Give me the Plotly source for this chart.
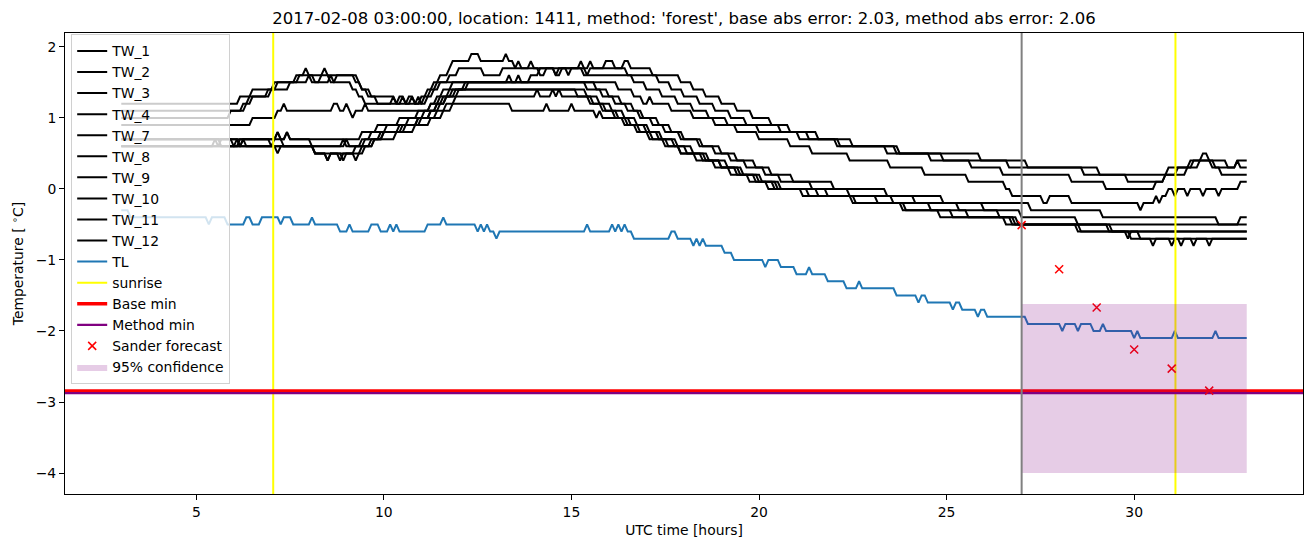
import numpy as np
import plotly.graph_objects as go

# ---------------- data ----------------
T_START, T_END, STEP_PER_H = 3.0, 33.0, 12   # 5-minute observations

TW_1 = [(3.0,1.2),(6.17,1.3),(6.5,1.4),(7.08,1.5),(7.67,1.6),(7.92,1.7),(8.0,1.6),(8.42,1.7),(8.5,1.6),(9.33,1.5),(9.42,1.4),(9.58,1.3),(10.33,1.2),(10.42,1.3),(10.58,1.2),(10.67,1.3),(10.83,1.2),(11.0,1.3),(11.17,1.4),(11.33,1.5),(11.5,1.6),(11.75,1.7),(11.83,1.8),(12.33,1.9),(12.58,1.8),(13.25,1.9),(13.33,1.8),(13.5,1.7),(13.58,1.8),(13.67,1.7),(13.92,1.8),(14.0,1.7),(15.25,1.8),(15.33,1.7),(15.5,1.8),(15.58,1.7),(15.92,1.8),(16.17,1.7),(16.42,1.8),(16.58,1.7),(17.17,1.6),(17.92,1.5),(18.25,1.4),(18.58,1.3),(19.0,1.2),(19.42,1.1),(19.83,1.0),(20.33,0.9),(20.83,0.8),(21.58,0.7),(22.17,0.6),(23.67,0.5),(25.92,0.4),(27.17,0.3),(29.08,0.2),(30.92,0.3),(31.5,0.4),(31.83,0.5),(32.0,0.4),(32.17,0.3),(32.75,0.4),(32.83,0.3)]
TW_2 = [(3.0,1.1),(6.25,1.2),(6.42,1.3),(7.0,1.4),(7.17,1.5),(7.75,1.6),(8.17,1.5),(8.33,1.6),(8.58,1.5),(8.75,1.6),(9.25,1.5),(9.42,1.4),(9.67,1.3),(9.83,1.2),(10.5,1.3),(10.58,1.2),(10.92,1.3),(11.0,1.2),(11.17,1.3),(11.33,1.4),(11.5,1.5),(11.75,1.6),(12.0,1.7),(12.67,1.6),(13.17,1.7),(14.17,1.6),(14.33,1.7),(14.58,1.6),(14.75,1.7),(15.42,1.6),(15.5,1.7),(16.5,1.6),(17.33,1.5),(17.67,1.4),(18.0,1.3),(18.42,1.2),(18.83,1.1),(19.25,1.0),(19.67,0.9),(20.58,0.8),(21.33,0.7),(22.08,0.6),(23.42,0.5),(24.92,0.4),(26.67,0.3),(28.67,0.2),(29.83,0.1),(30.83,0.2),(31.17,0.3),(31.58,0.4),(32.5,0.3),(32.75,0.4)]
TW_3 = [(3.0,1.0),(5.92,1.1),(6.33,1.2),(6.5,1.3),(6.92,1.4),(7.5,1.5),(8.0,1.6),(8.08,1.5),(8.58,1.6),(8.67,1.5),(9.17,1.4),(9.33,1.3),(9.5,1.2),(10.25,1.3),(10.33,1.2),(10.75,1.3),(10.83,1.2),(11.08,1.3),(11.25,1.4),(11.42,1.5),(13.92,1.6),(14.17,1.7),(14.58,1.6),(14.67,1.7),(14.92,1.6),(15.0,1.7),(15.33,1.6),(16.67,1.5),(17.0,1.4),(17.42,1.3),(17.83,1.2),(18.25,1.1),(18.67,1.0),(19.17,0.9),(20.0,0.8),(21.08,0.7),(22.5,0.6),(23.75,0.5),(24.58,0.4),(25.67,0.3),(26.5,0.2),(28.33,0.1),(29.25,0.0),(30.58,0.1),(30.83,0.2),(31.42,0.3),(31.75,0.4),(32.08,0.3),(32.33,0.2)]
TW_4 = [(3.0,0.9),(6.5,1.0),(7.17,1.1),(7.33,1.2),(7.42,1.1),(8.67,1.2),(8.83,1.1),(9.0,1.2),(9.08,1.1),(9.17,1.0),(9.25,1.1),(9.5,1.2),(9.58,1.1),(11.25,1.2),(11.42,1.3),(11.58,1.4),(11.83,1.5),(13.33,1.6),(13.42,1.5),(13.58,1.6),(13.67,1.5),(16.25,1.4),(16.67,1.3),(16.92,1.2),(17.08,1.3),(17.17,1.2),(17.67,1.1),(18.25,1.0),(18.83,0.9),(19.42,0.8),(20.0,0.7),(20.83,0.6),(21.42,0.5),(22.42,0.4),(23.5,0.3),(24.42,0.2),(25.58,0.1),(26.58,0.0),(26.75,-0.1),(27.58,-0.2),(27.75,-0.1),(28.33,-0.2),(30.17,-0.3),(30.25,-0.2),(30.58,-0.1),(30.67,-0.2),(30.75,-0.1),(30.92,0.0),(31.08,-0.1),(31.17,0.0),(31.42,-0.1),(31.5,0.0),(31.83,-0.1),(31.92,0.0),(32.25,-0.1),(32.33,0.0),(32.83,0.1)]
TW_7 = [(3.0,0.7),(7.17,0.8),(7.25,0.7),(7.42,0.8),(7.5,0.7),(9.42,0.8),(9.83,0.9),(10.42,1.0),(10.92,1.1),(11.25,1.2),(11.5,1.3),(11.75,1.4),(12.17,1.5),(15.67,1.4),(16.0,1.3),(16.33,1.2),(16.67,1.1),(16.92,1.0),(17.33,0.9),(17.67,0.8),(18.0,0.7),(18.5,0.6),(19.0,0.5),(19.42,0.4),(19.92,0.3),(20.33,0.2),(20.92,0.1),(22.0,0.0),(23.42,-0.1),(24.92,-0.2),(27.25,-0.3),(29.17,-0.4),(32.25,-0.5),(32.83,-0.4)]
TW_8 = [(3.0,0.6),(5.5,0.7),(5.67,0.6),(6.25,0.7),(6.33,0.6),(7.17,0.5),(7.25,0.6),(8.17,0.5),(8.5,0.4),(8.58,0.5),(8.92,0.4),(9.0,0.5),(9.25,0.4),(9.33,0.5),(9.5,0.6),(9.75,0.7),(10.0,0.8),(10.42,0.9),(10.92,1.0),(11.25,1.1),(11.42,1.2),(11.67,1.3),(11.92,1.4),(12.25,1.5),(15.42,1.4),(15.83,1.3),(16.17,1.2),(16.5,1.1),(16.83,1.0),(17.17,0.9),(17.5,0.8),(17.92,0.7),(18.42,0.6),(18.83,0.5),(19.25,0.4),(19.67,0.3),(20.17,0.2),(20.58,0.1),(21.42,0.0),(22.42,-0.1),(24.17,-0.2),(26.0,-0.3),(27.0,-0.4),(28.5,-0.5)]
TW_9 = [(3.0,0.7),(6.0,0.6),(6.17,0.7),(7.17,0.8),(7.25,0.7),(7.42,0.8),(7.5,0.7),(8.08,0.6),(8.92,0.7),(9.0,0.6),(9.42,0.7),(9.67,0.8),(10.08,0.9),(10.67,1.0),(11.08,1.1),(11.42,1.2),(11.58,1.3),(11.83,1.4),(15.42,1.3),(15.75,1.2),(16.08,1.1),(16.42,1.0),(16.75,0.9),(17.08,0.8),(17.42,0.7),(17.83,0.6),(18.25,0.5),(18.67,0.4),(19.17,0.3),(19.58,0.2),(20.08,0.1),(20.5,0.0),(21.83,-0.1),(23.58,-0.2),(25.33,-0.3),(26.42,-0.4),(26.92,-0.5),(29.42,-0.6),(29.83,-0.7),(29.92,-0.6)]
TW_10 = [(3.0,0.6),(8.17,0.5),(8.5,0.4),(8.58,0.5),(8.83,0.4),(8.92,0.5),(9.25,0.6),(9.5,0.7),(9.92,0.8),(10.5,0.9),(10.92,1.0),(11.25,1.1),(11.5,1.2),(11.67,1.3),(12.0,1.4),(15.17,1.3),(15.58,1.2),(15.92,1.1),(16.25,1.0),(16.58,0.9),(17.0,0.8),(17.33,0.7),(17.75,0.6),(18.08,0.5),(18.58,0.4),(19.0,0.3),(19.42,0.2),(19.92,0.1),(20.58,0.0),(21.58,-0.1),(23.17,-0.2),(24.58,-0.3),(25.58,-0.4),(26.75,-0.5),(28.5,-0.6),(30.17,-0.7),(31.0,-0.8),(31.08,-0.7),(31.25,-0.8),(31.33,-0.7),(31.58,-0.8),(31.67,-0.7),(32.0,-0.8),(32.08,-0.7)]
TW_11 = [(3.0,0.7),(5.58,0.6),(5.67,0.7),(6.17,0.6),(6.25,0.7),(7.0,0.6),(7.08,0.7),(7.33,0.6),(8.17,0.5),(9.42,0.6),(9.67,0.7),(10.0,0.8),(10.58,0.9),(11.0,1.0),(11.42,1.1),(11.67,1.2),(11.92,1.3),(14.08,1.4),(14.17,1.3),(14.5,1.4),(14.58,1.3),(14.67,1.4),(14.75,1.3),(15.5,1.2),(15.83,1.1),(16.17,1.0),(16.5,0.9),(16.83,0.8),(17.17,0.7),(17.58,0.6),(17.92,0.5),(18.33,0.4),(18.83,0.3),(19.25,0.2),(19.75,0.1),(20.25,0.0),(21.17,-0.1),(22.5,-0.2),(23.83,-0.3),(25.17,-0.4),(26.83,-0.5),(29.33,-0.6)]
TW_12 = [(3.0,0.6),(6.08,0.7),(6.17,0.6),(9.0,0.7),(9.08,0.6),(9.75,0.7),(10.33,0.8),(10.83,0.9),(11.25,1.0),(11.58,1.1),(11.83,1.2),(13.42,1.1),(14.33,1.2),(14.42,1.1),(15.0,1.2),(15.08,1.1),(15.67,1.0),(15.75,1.1),(15.83,1.0),(16.42,0.9),(16.75,0.8),(17.08,0.7),(17.5,0.6),(17.92,0.5),(18.5,0.4),(19.0,0.3),(19.5,0.2),(20.0,0.1),(20.42,0.0),(21.33,-0.1),(22.58,-0.2),(23.92,-0.3),(24.83,-0.4),(26.58,-0.5),(28.58,-0.6),(29.92,-0.7),(30.5,-0.8),(30.58,-0.7)]
TL = [(3.0,-0.3),(3.25,-0.4),(5.33,-0.5),(5.42,-0.4),(5.83,-0.5),(6.33,-0.4),(6.5,-0.5),(6.79,-0.4),(7.25,-0.5),(7.33,-0.4),(7.58,-0.5),(8.08,-0.4),(8.17,-0.5),(8.83,-0.6),(9.08,-0.5),(9.17,-0.6),(9.67,-0.5),(9.92,-0.6),(10.17,-0.5),(10.25,-0.6),(10.33,-0.5),(10.42,-0.6),(11.17,-0.5),(11.58,-0.4),(11.67,-0.5),(12.5,-0.6),(12.58,-0.5),(12.67,-0.6),(12.75,-0.5),(12.83,-0.6),(13.0,-0.7),(13.08,-0.6),(15.42,-0.5),(15.5,-0.6),(16.08,-0.5),(16.17,-0.6),(16.25,-0.5),(16.33,-0.6),(16.42,-0.5),(16.5,-0.6),(16.67,-0.7),(17.67,-0.6),(17.83,-0.7),(18.25,-0.8),(18.33,-0.7),(18.42,-0.8),(18.5,-0.7),(18.58,-0.8),(19.08,-0.9),(19.33,-1.0),(20.17,-1.1),(20.25,-1.0),(20.58,-1.1),(21.0,-1.2),(21.33,-1.1),(21.42,-1.2),(21.83,-1.3),(22.33,-1.4),(22.67,-1.3),(22.75,-1.4),(23.67,-1.5),(24.25,-1.6),(24.33,-1.5),(24.5,-1.6),(25.17,-1.7),(25.25,-1.6),(25.42,-1.7),(25.83,-1.8),(25.92,-1.7),(26.08,-1.8),(27.17,-1.9),(28.08,-2.0),(28.17,-1.9),(28.5,-2.0),(28.58,-1.9),(28.92,-2.0),(29.17,-1.9),(29.25,-2.0),(30.0,-2.1),(30.08,-2.0),(30.17,-2.1),(31.08,-2.0),(31.17,-2.1),(32.17,-2.0),(32.25,-2.1)]

TW_NAMES = ["TW_1", "TW_2", "TW_3", "TW_4", "TW_7", "TW_8", "TW_9", "TW_10", "TW_11", "TW_12"]
TW_SERIES = [TW_1, TW_2, TW_3, TW_4, TW_7, TW_8, TW_9, TW_10, TW_11, TW_12]

SUNRISE = [7.05, 31.1]
NOW_T = 27.0
BASE_MIN = -2.845
METHOD_MIN = -2.875
SANDER_T = [27, 28, 29, 30, 31, 32]
SANDER_V = [-0.51, -1.13, -1.67, -2.26, -2.53, -2.84]
CONF_T = [27, 33]
CONF_LO = -4.0
CONF_HI = -1.62

TITLE = "2017-02-08 03:00:00, location: 1411, method: 'forest', base abs error: 2.03, method abs error: 2.06"

# ---------------- helpers ----------------
N = int(round((T_END - T_START) * STEP_PER_H)) + 1
t_grid = T_START + np.arange(N) / STEP_PER_H


def expand(bps):
    idx, prev = [], -1
    for t, _ in bps:
        i = int(round((t - T_START) * STEP_PER_H))
        if i <= prev:
            i = prev + 1
        idx.append(i)
        prev = i
    vals = np.empty(N)
    for k, (i, (_, v)) in enumerate(zip(idx, bps)):
        end = idx[k + 1] if k + 1 < len(idx) else N
        vals[i:end] = v
    return vals


tw_vals = [expand(s) for s in TW_SERIES]
tl_vals = expand(TL)

# matplotlib-like autoscale limits (5% margins)
xs_all = np.concatenate([t_grid, SANDER_T, CONF_T])
ys_all = np.concatenate(tw_vals + [tl_vals, SANDER_V, [CONF_LO, CONF_HI]])
xmin, xmax = xs_all.min(), xs_all.max()
ymin, ymax = ys_all.min(), ys_all.max()
xlim = [xmin - 0.05 * (xmax - xmin), xmax + 0.05 * (xmax - xmin)]
ylim = [ymin - 0.05 * (ymax - ymin), ymax + 0.05 * (ymax - ymin)]

# ---------------- figure ----------------
FS = 13.9
fig = go.Figure()
LW = 2.0
for name, v in zip(TW_NAMES, tw_vals):
    fig.add_trace(go.Scatter(x=t_grid, y=v, mode="lines", name=name,
                             line=dict(color="black", width=LW)))
fig.add_trace(go.Scatter(x=t_grid, y=tl_vals, mode="lines", name="TL",
                         line=dict(color="#1f77b4", width=LW)))

sx, sy = [], []
for s in SUNRISE:
    sx += [s, s, None]
    sy += [ylim[0], ylim[1], None]
fig.add_trace(go.Scatter(x=sx, y=sy, mode="lines", name="sunrise",
                         line=dict(color="yellow", width=LW)))
fig.add_trace(go.Scatter(x=xlim, y=[BASE_MIN, BASE_MIN], mode="lines", name="Base min",
                         line=dict(color="red", width=3.3)))
fig.add_trace(go.Scatter(x=xlim, y=[METHOD_MIN, METHOD_MIN], mode="lines", name="Method min",
                         line=dict(color="purple", width=2.3)))
fig.add_trace(go.Scatter(x=SANDER_T, y=SANDER_V, mode="markers", name="Sander forecast",
                         marker=dict(symbol="x-thin", size=8, color="red",
                                     line=dict(color="red", width=1.5))))
fig.add_trace(go.Scatter(x=[CONF_T[0], CONF_T[1], CONF_T[1], CONF_T[0], CONF_T[0]],
                         y=[CONF_LO, CONF_LO, CONF_HI, CONF_HI, CONF_LO],
                         mode="lines", fill="toself", name="95% confidence",
                         fillcolor="rgba(128,0,128,0.2)", line=dict(width=0)))
fig.add_trace(go.Scatter(x=[NOW_T, NOW_T], y=ylim, mode="lines", showlegend=False,
                         line=dict(color="gray", width=LW)))

axis_common = dict(showline=True, mirror=True, linecolor="black", linewidth=1,
                   ticks="outside", ticklen=5, tickwidth=1, tickcolor="black",
                   showgrid=False, zeroline=False,
                   tickfont=dict(family="DejaVu Sans", size=FS, color="black"))

fig.update_layout(
    width=1313, height=547,
    margin=dict(l=65, r=10, t=33, b=53, autoexpand=False),
    plot_bgcolor="white", paper_bgcolor="white",
    font=dict(family="DejaVu Sans", size=FS, color="black"),
    title=dict(text=TITLE, x=0.5, xref="paper", xanchor="center",
               y=1 - 18 / 547, yref="container", yanchor="middle",
               font=dict(family="DejaVu Sans", size=16.5, color="black")),
    xaxis=dict(range=xlim, tickmode="array", tickvals=list(range(5, 31, 5)),
               title=dict(text="UTC time [hours]", standoff=6,
                          font=dict(family="DejaVu Sans", size=FS)),
               **axis_common),
    yaxis=dict(range=ylim, tickmode="array", tickvals=list(range(-4, 3)),
               title=dict(text="Temperature [ <sup>∘</sup>C]", standoff=8,
                          font=dict(family="DejaVu Sans", size=FS)),
               **axis_common),
    legend=dict(x=0.005, y=0.997, xanchor="left", yanchor="top",
                bgcolor="rgba(255,255,255,0.8)", bordercolor="#d0d0d0", borderwidth=1,
                font=dict(family="DejaVu Sans", size=FS), tracegroupgap=0,
                itemwidth=30),
)

fig.write_html("out.html")
